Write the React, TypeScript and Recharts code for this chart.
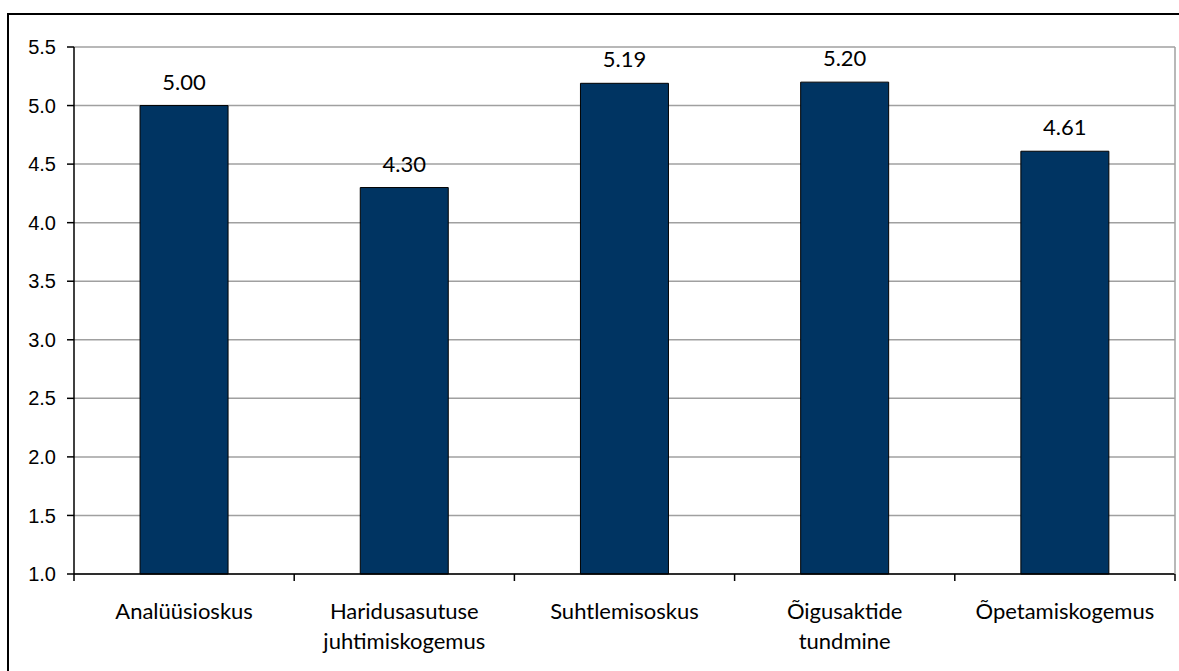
import { BarChart, Bar, XAxis, YAxis, CartesianGrid, LabelList } from 'recharts'

const categories = [
  ['Analüüsioskus'],
  ['Haridusasutuse', 'juhtimiskogemus'],
  ['Suhtlemisoskus'],
  ['Õigusaktide', 'tundmine'],
  ['Õpetamiskogemus'],
]
const scores = [5.0, 4.3, 5.19, 5.2, 4.61]
const yTicks = [1.0, 1.5, 2.0, 2.5, 3.0, 3.5, 4.0, 4.5, 5.0, 5.5]

const data = categories.map((lines, i) => ({ name: lines.join('\n'), value: scores[i] }))

// tick marks sit on the category boundaries, as in Excel
function CategoryTick({ x, y, payload, index }: any) {
  const lines = String(payload.value).split('\n')
  const half = payload.offset ?? 0
  return (
    <g>
      <line x1={x - half} x2={x - half} y1={y} y2={y + 7} stroke="#000" strokeWidth={1.5} />
      {index === data.length - 1 && (
        <line x1={x + half} x2={x + half} y1={y} y2={y + 7} stroke="#000" strokeWidth={1.5} />
      )}
      <text x={x} y={y} textAnchor="middle" fill="#000" fontFamily="Lato, sans-serif" fontSize={22}>
        {lines.map((l, i) => (
          <tspan key={i} x={x} dy={i === 0 ? 45 : 30}>{l}</tspan>
        ))}
      </text>
    </g>
  )
}

export default function App() {
  return (
    <div style={{ position: 'absolute', left: 0, top: 0, width: 1179, height: 671, overflow: 'hidden', background: '#fff' }}>
      <div style={{ position: 'absolute', left: 7, top: 13, width: 1300, height: 800, border: '2px solid #000' }} />
      <div style={{ position: 'absolute', left: 0, top: 0 }}>
        <BarChart width={1179} height={671} data={data} barCategoryGap="30%"
          margin={{ top: 47, right: 2, bottom: 0, left: 0 }}>
          <CartesianGrid vertical={false} stroke="#a0a0a0" strokeWidth={1.5} />
          <XAxis dataKey="name" height={97} axisLine={{ stroke: '#000', strokeWidth: 1.5 }} tickLine={false}
            tickSize={0} tickMargin={0} interval={0} tick={<CategoryTick />} />
          <YAxis domain={[1, 5.5]} ticks={yTicks} width={74} tickSize={7} tickMargin={11}
            tickFormatter={(v: number) => v.toFixed(1)} stroke="#000" strokeWidth={1.5}
            tick={{ fill: '#000', fontFamily: '"Liberation Sans", Arial, sans-serif', fontSize: 20 }} />
          <YAxis yAxisId="right" orientation="right" domain={[1, 5.5]} width={2} tick={false}
            tickLine={false} stroke="#a0a0a0" strokeWidth={1.5} />
          <Bar dataKey="value" fill="#003462" stroke="#000" strokeWidth={1} isAnimationActive={false}>
            <LabelList dataKey="value" position="top" offset={16} fill="#000"
              fontFamily="Lato, sans-serif" fontSize={22}
              formatter={(v: any) => Number(v).toFixed(2)} />
          </Bar>
        </BarChart>
      </div>
    </div>
  )
}
